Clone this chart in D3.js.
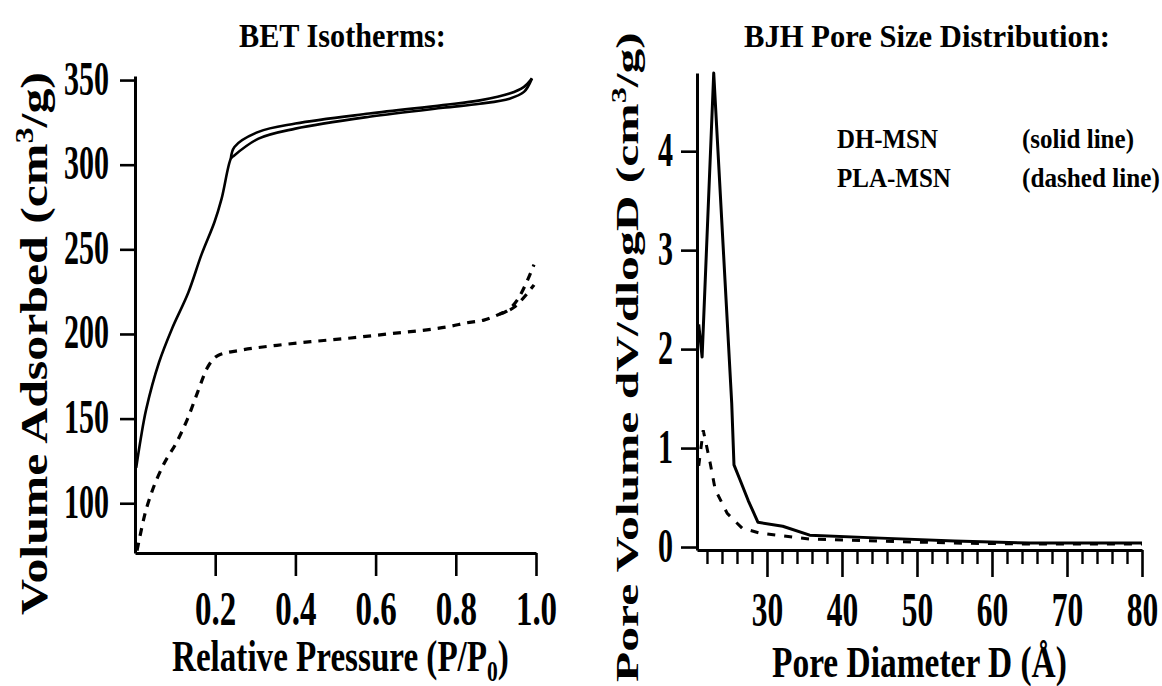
<!DOCTYPE html>
<html>
<head>
<meta charset="utf-8">
<script src="https://cdn.jsdelivr.net/npm/d3@7"></script>
<style>
body { margin: 0; background: #fff; }
svg { display: block; }
text { font-family: "Liberation Serif", "Times New Roman", serif; font-weight: bold; fill: #000; }
</style>
</head>
<body>
<svg id="chart" width="1162" height="686"></svg>
<script>
// ---- BET isotherms (left panel) ----
// DH-MSN, solid line: adsorption branch
var dhAdsP = [0.003, 0.014, 0.028, 0.06, 0.092, 0.133, 0.166, 0.198, 0.216, 0.239, 0.245, 0.308, 0.40, 0.584, 0.768, 0.86, 0.934, 0.97, 0.99];
var dhAdsV = [121, 137.7, 155.6, 183.3, 203, 224.5, 247, 266, 280, 303.6, 305, 315.4, 321.3, 328.3, 333.6, 336, 339, 343, 351];
// DH-MSN desorption branch
var dhDesP = [0.239, 0.248, 0.308, 0.40, 0.584, 0.768, 0.86, 0.934, 0.97, 0.99];
var dhDesV = [303.6, 310.5, 319.4, 324.3, 330.2, 335.2, 338, 342, 346, 351];
// PLA-MSN, dashed line: adsorption branch
var plaAdsP = [0.005, 0.012, 0.023, 0.041, 0.069, 0.106, 0.133, 0.156, 0.179, 0.207, 0.262, 0.354, 0.446, 0.538, 0.63, 0.745, 0.79, 0.825, 0.87, 0.91, 0.946, 0.975, 0.995];
var plaAdsV = [72, 80, 92, 106, 121.8, 137, 151, 165.5, 179.4, 187.3, 190.3, 193.3, 195.6, 197.6, 200, 203, 204.7, 206.5, 208.2, 211.8, 215.9, 223, 229];
// PLA-MSN desorption branch
var plaDesP = [0.91, 0.93, 0.955, 0.98, 0.995];
var plaDesV = [211.8, 214, 220.6, 232.4, 241];

var betXTicks = [0.2, 0.4, 0.6, 0.8, 1.0];
var betYTicks = [100, 150, 200, 250, 300, 350];

// ---- BJH pore size distribution (right panel) ----
var dhPoreD = [20.9, 21.35, 22.9, 24.4, 25.3, 25.6, 26.4, 27.5, 28.8, 32.1, 35.7, 45.2, 55, 65, 80];
var dhPoreV = [2.25, 1.92, 4.79, 2.7, 1.45, 0.83, 0.68, 0.47, 0.25, 0.21, 0.12, 0.09, 0.06, 0.04, 0.04];
var plaPoreD = [20.9, 21.5, 22.4, 23.1, 24.7, 26.7, 29.1, 31.3, 33.5, 35.7, 45, 55, 65, 80];
var plaPoreV = [0.82, 1.18, 0.86, 0.58, 0.34, 0.19, 0.14, 0.12, 0.10, 0.08, 0.06, 0.04, 0.03, 0.03];

var bjhXTicks = [30, 40, 50, 60, 70, 80];
var bjhXMinor = [22, 24, 26, 28, 32, 34, 36, 38, 42, 44, 46, 48, 52, 54, 56, 58, 62, 64, 66, 68, 72, 74, 76, 78];
var bjhYTicks = [0, 1, 2, 3, 4];

var svg = d3.select("#chart");

function zip(a, b) { return a.map(function(v, i) { return [v, b[i]]; }); }

// text squeezed into a box the way the scanned figure looks
function fitText(parent, pieces, opt) {
  var t = parent.append("text").attr("font-size", 40).attr("text-anchor", "start");
  pieces.forEach(function(p) {
    var ts = t.append("tspan").text(p.s);
    if (p.size) ts.attr("font-size", p.size);
    if (p.dy) ts.attr("dy", p.dy);
  });
  var w = t.node().getBBox().width;
  var sx = opt.width / w, sy = opt.capH / (0.66 * 40);
  t.attr("transform", "translate(" + opt.x + "," + opt.y + ")" +
    (opt.rotate ? " rotate(-90)" : "") + " scale(" + sx + "," + sy + ")");
  return t;
}

function styleAxis(g, textTransform, anchor) {
  g.select(".domain").attr("stroke", "#000").attr("stroke-width", 3);
  g.selectAll(".tick line").attr("stroke", "#000").attr("stroke-width", 2.6);
  g.selectAll(".tick text")
    .attr("x", null).attr("y", null).attr("dy", null)
    .attr("font-size", 30)
    .attr("font-family", "Liberation Serif")
    .attr("font-weight", "bold")
    .attr("text-anchor", anchor)
    .attr("transform", textTransform);
}

// ================= LEFT PANEL =================
var xBet = d3.scaleLinear().domain([0, 1]).range([135, 536]);
var yBet = d3.scaleLinear().domain([70.6, 352.4]).range([553, 76]);

var left = svg.append("g");

left.append("g")
  .attr("transform", "translate(135,0)")
  .call(d3.axisLeft(yBet).tickValues(betYTicks).tickSize(15).tickSizeOuter(0).tickFormat(d3.format("d")))
  .call(styleAxis, "translate(-26,14) scale(1,1.62)", "end");

left.append("g")
  .attr("transform", "translate(0,553)")
  .call(d3.axisBottom(xBet).tickValues(betXTicks).tickSize(23).tickSizeOuter(0).tickFormat(d3.format(".1f")))
  .call(styleAxis, "translate(0,72) scale(1.1,1.6)", "middle");

var lineSolid = d3.line()
  .x(function(d) { return xBet(d[0]); })
  .y(function(d) { return yBet(d[1]); })
  .curve(d3.curveCatmullRom.alpha(0.5));
var lineDash = d3.line()
  .x(function(d) { return xBet(d[0]); })
  .y(function(d) { return yBet(d[1]); })
  .curve(d3.curveMonotoneX);

left.append("path").datum(zip(dhAdsP, dhAdsV))
  .attr("d", lineSolid).attr("fill", "none").attr("stroke", "#000").attr("stroke-width", 2.6);
left.append("path").datum(zip(dhDesP, dhDesV))
  .attr("d", lineSolid).attr("fill", "none").attr("stroke", "#000").attr("stroke-width", 2.6);
left.append("path").datum(zip(plaAdsP, plaAdsV))
  .attr("d", lineDash).attr("fill", "none").attr("stroke", "#000").attr("stroke-width", 3.2)
  .attr("stroke-dasharray", "8,7");
left.append("path").datum(zip(plaDesP, plaDesV))
  .attr("d", lineDash).attr("fill", "none").attr("stroke", "#000").attr("stroke-width", 3.2)
  .attr("stroke-dasharray", "8,7");

fitText(left, [{ s: "BET Isotherms:" }], { x: 239, y: 47, width: 207, capH: 22 });
fitText(left, [{ s: "Relative Pressure (P/P" }, { s: "0", size: 26, dy: 9 }, { s: ")", dy: -9 }],
  { x: 172, y: 671, width: 337, capH: 29 });
fitText(left, [{ s: "Volume Adsorbed (cm" }, { s: "3", size: 26, dy: -15 }, { s: "/g)", dy: 15 }],
  { x: 47, y: 615, width: 543, capH: 25, rotate: true });

// ================= RIGHT PANEL =================
var xBjh = d3.scaleLinear().domain([20.67, 80]).range([697, 1142]);
var yBjh = d3.scaleLinear().domain([-0.03, 4.79]).range([550, 73]);

var right = svg.append("g");

right.append("g")
  .attr("transform", "translate(697,0)")
  .call(d3.axisLeft(yBjh).tickValues(bjhYTicks).tickSize(16).tickSizeOuter(0).tickFormat(d3.format("d")))
  .call(styleAxis, "translate(-24,14) scale(1,1.62)", "end");

right.append("g")
  .attr("transform", "translate(0,550)")
  .call(d3.axisBottom(xBjh).tickValues(bjhXMinor).tickSize(14).tickSizeOuter(0).tickFormat(""))
  .call(function(g) {
    g.select(".domain").remove();
    g.selectAll(".tick line").attr("stroke", "#000").attr("stroke-width", 2.4);
  });

right.append("g")
  .attr("transform", "translate(0,550)")
  .call(d3.axisBottom(xBjh).tickValues(bjhXTicks).tickSize(27).tickSizeOuter(0).tickFormat(d3.format("d")))
  .call(styleAxis, "translate(0,76) scale(1.05,1.65)", "middle");

var lineBjh = d3.line()
  .x(function(d) { return xBjh(d[0]); })
  .y(function(d) { return yBjh(d[1]); });

right.append("path").datum(zip(dhPoreD, dhPoreV))
  .attr("d", lineBjh).attr("fill", "none").attr("stroke", "#000").attr("stroke-width", 3)
  .attr("stroke-linejoin", "round");
right.append("path").datum(zip(plaPoreD, plaPoreV))
  .attr("d", lineBjh).attr("fill", "none").attr("stroke", "#000").attr("stroke-width", 3)
  .attr("stroke-dasharray", "8,9");

fitText(right, [{ s: "BJH Pore Size Distribution:" }], { x: 744, y: 47, width: 366, capH: 21 });
fitText(right, [{ s: "Pore Diameter D (Å)" }], { x: 772, y: 677, width: 295, capH: 29 });
fitText(right, [{ s: "Pore Volume dV/dlogD (cm" }, { s: "3", size: 26, dy: -15 }, { s: "/g)", dy: 15 }],
  { x: 638, y: 682, width: 650, capH: 21, rotate: true });

// legend text
fitText(right, [{ s: "DH-MSN" }], { x: 837, y: 148, width: 101, capH: 18 });
fitText(right, [{ s: "PLA-MSN" }], { x: 837, y: 187, width: 114, capH: 18 });
fitText(right, [{ s: "(solid line)" }], { x: 1022, y: 148, width: 112, capH: 18 });
fitText(right, [{ s: "(dashed line)" }], { x: 1022, y: 187, width: 138, capH: 18 });
</script>
</body>
</html>
